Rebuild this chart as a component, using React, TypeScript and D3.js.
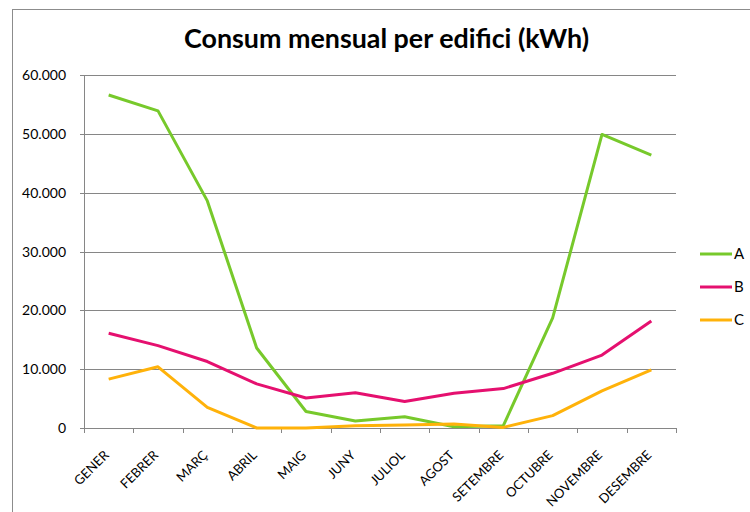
import * as d3 from 'd3';

// monthly consumption per building (kWh)
const months = ['GENER', 'FEBRER', 'MARÇ', 'ABRIL', 'MAIG', 'JUNY', 'JULIOL', 'AGOST', 'SETEMBRE', 'OCTUBRE', 'NOVEMBRE', 'DESEMBRE'];
const seriesNames = ['A', 'B', 'C'];
const valuesA = [56600, 53900, 38600, 13600, 2800, 1200, 1900, 200, 400, 18700, 49900, 46400];
const valuesB = [16100, 14000, 11300, 7500, 5100, 6000, 4500, 5900, 6700, 9300, 12400, 18200];
const valuesC = [8300, 10400, 3500, 0, 0, 400, 500, 700, 100, 2100, 6300, 9900];
const yTicks = [0, 10000, 20000, 30000, 40000, 50000, 60000];
const colors = ['#77c92b', '#e5106f', '#ffb20a'];

const width = 750;
const height = 512;
const left = 84;
const right = 676;
const top = 75;
const bottom = 428;
const font = 'Lato, "Open Sans", sans-serif';

export default function App() {
  const x = d3.scaleBand<string>().domain(months).range([left, right]);
  const y = d3.scaleLinear().domain([0, 60000]).range([bottom, top]);
  const allSeries = [valuesA, valuesB, valuesC];
  const line = d3.line<number>()
    .x((_, i) => (x(months[i]) as number) + x.bandwidth() / 2)
    .y(d => y(d));
  const fmt = (v: number) => v === 0 ? '0' : d3.format(',')(v).replace(/,/g, '.');
  const grey = '#868686';

  return (
    <svg width={width} height={height} style={{ position: 'fixed', left: 0, top: 0, background: '#fff' }}>
      {/* chart frame */}
      <rect x={12.5} y={9.5} width={760} height={520} fill="white" stroke="#8c8c8c" strokeWidth={1} />
      <text x={386.5} y={48} textAnchor="middle" fontFamily={font} fontWeight="bold" fontSize={26}
        textLength={405} lengthAdjust="spacingAndGlyphs" fill="#000">
        Consum mensual per edifici (kWh)
      </text>

      {/* gridlines and y axis labels */}
      {yTicks.map(t => (
        <g key={t}>
          <line x1={left - 4} x2={right} y1={Math.round(y(t)) + 0.5} y2={Math.round(y(t)) + 0.5} stroke={grey} strokeWidth={1} />
          <text x={66} y={y(t)} dy="0.36em" textAnchor="end" fontFamily={font} fontSize={14} fill="#000">{fmt(t)}</text>
        </g>
      ))}
      <line x1={left + 0.5} x2={left + 0.5} y1={top} y2={bottom} stroke={grey} />

      {/* x ticks and labels */}
      {months.map((m, i) => {
        const x0 = x(m) as number;
        const cx = x0 + x.bandwidth() / 2;
        return (
          <g key={m}>
            <line x1={Math.round(x0) + 0.5} x2={Math.round(x0) + 0.5} y1={bottom} y2={bottom + 5} stroke={grey} />
            {i === months.length - 1 && (
              <line x1={right + 0.5} x2={right + 0.5} y1={bottom} y2={bottom + 5} stroke={grey} />
            )}
            <text transform={`translate(${cx + 1},${bottom + 28}) rotate(-45)`} textAnchor="end"
              fontFamily={font} fontSize={13} fill="#000">{m}</text>
          </g>
        );
      })}

      {/* series */}
      {allSeries.map((s, i) => (
        <path key={i} d={line(s) as string} fill="none" stroke={colors[i]} strokeWidth={3} strokeLinejoin="round" />
      ))}

      {/* legend */}
      {seriesNames.map((n, i) => (
        <g key={n}>
          <line x1={700} x2={732} y1={254 + i * 33} y2={254 + i * 33} stroke={colors[i]} strokeWidth={3} />
          <text x={734} y={254 + i * 33} dy="0.36em" fontFamily={font} fontSize={15} fill="#000">{n}</text>
        </g>
      ))}
    </svg>
  );
}
